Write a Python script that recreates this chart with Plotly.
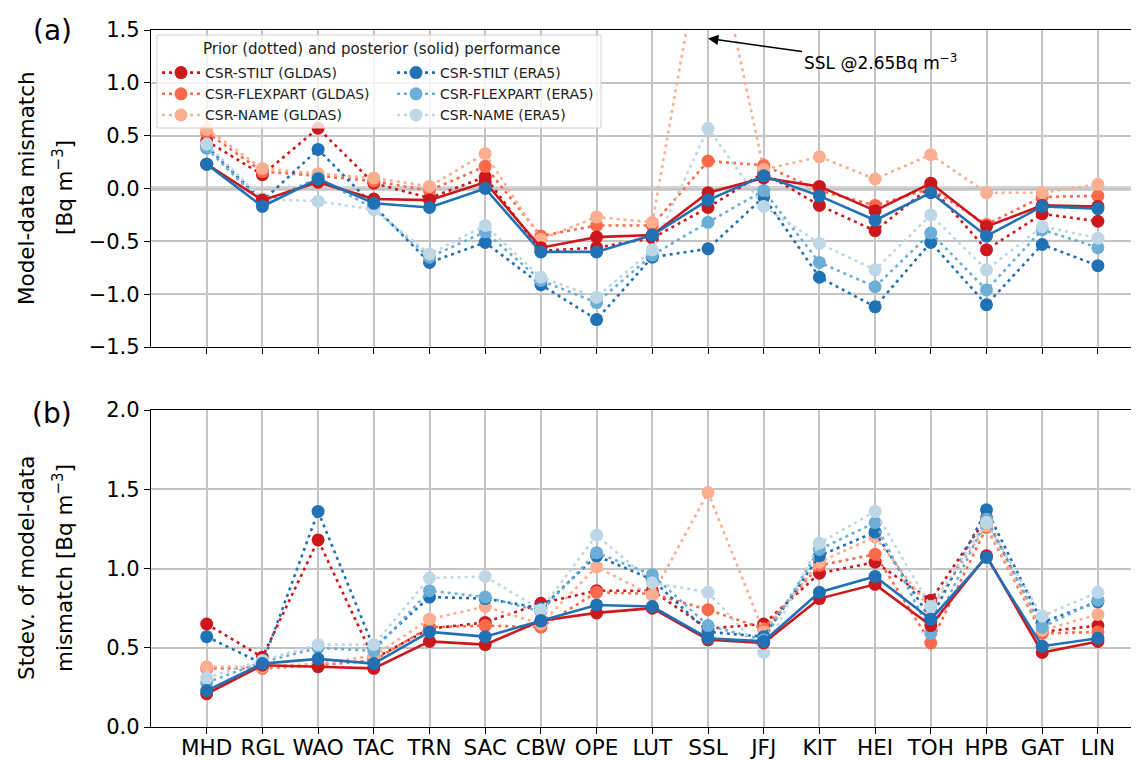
import plotly.graph_objects as go

stations = ["MHD", "RGL", "WAO", "TAC", "TRN", "SAC", "CBW", "OPE", "LUT",
            "SSL", "JFJ", "KIT", "HEI", "TOH", "HPB", "GAT", "LIN"]

# Panel (a): mean model-data mismatch [Bq m-3]
stilt_gldas_prior_mean = [0.45, 0.13, 0.57, 0.05, -0.09, 0.11, -0.59, -0.56, -0.47, -0.18, 0.15, -0.16, -0.40, 0.02, -0.58, -0.24, -0.31]
flex_gldas_prior_mean = [0.53, 0.16, 0.12, 0.07, -0.02, 0.21, -0.45, -0.35, -0.35, 0.26, 0.22, -0.02, -0.16, 0.00, -0.34, -0.08, -0.07]
name_gldas_prior_mean = [0.56, 0.19, 0.14, 0.10, 0.02, 0.33, -0.48, -0.27, -0.32, 2.65, 0.18, 0.30, 0.09, 0.32, -0.04, -0.04, 0.04]
stilt_era5_prior_mean = [0.40, -0.12, 0.37, -0.17, -0.70, -0.51, -0.91, -1.24, -0.65, -0.57, -0.08, -0.84, -1.12, -0.51, -1.10, -0.53, -0.73]
flex_era5_prior_mean = [0.38, -0.14, 0.10, -0.19, -0.65, -0.41, -0.87, -1.08, -0.63, -0.32, -0.02, -0.70, -0.93, -0.42, -0.96, -0.39, -0.56]
name_era5_prior_mean = [0.42, -0.10, -0.12, -0.20, -0.62, -0.35, -0.84, -1.03, -0.58, 0.57, -0.17, -0.52, -0.77, -0.25, -0.77, -0.36, -0.47]
stilt_gldas_post_mean = [0.23, -0.11, 0.06, -0.10, -0.11, 0.06, -0.56, -0.46, -0.44, -0.04, 0.10, 0.02, -0.21, 0.05, -0.36, -0.16, -0.17]
stilt_era5_post_mean = [0.23, -0.17, 0.09, -0.14, -0.18, 0.00, -0.60, -0.60, -0.44, -0.11, 0.12, -0.07, -0.30, -0.04, -0.45, -0.17, -0.19]

# Panel (b): standard deviation of model-data mismatch [Bq m-3]
stilt_gldas_prior_sd = [0.65, 0.44, 1.18, 0.43, 0.62, 0.66, 0.78, 0.86, 0.86, 0.62, 0.65, 0.97, 1.04, 0.80, 1.32, 0.60, 0.64]
flex_gldas_prior_sd = [0.37, 0.37, 0.39, 0.42, 0.63, 0.64, 0.63, 0.85, 0.84, 0.74, 0.62, 1.02, 1.09, 0.53, 1.26, 0.59, 0.60]
name_gldas_prior_sd = [0.38, 0.38, 0.40, 0.45, 0.68, 0.76, 0.65, 1.01, 0.83, 1.48, 0.60, 1.04, 1.20, 0.74, 1.27, 0.61, 0.71]
stilt_era5_prior_sd = [0.57, 0.40, 1.36, 0.50, 0.82, 0.81, 0.75, 1.08, 0.93, 0.60, 0.57, 1.08, 1.23, 0.68, 1.37, 0.66, 0.79]
flex_era5_prior_sd = [0.28, 0.41, 0.50, 0.48, 0.86, 0.82, 0.73, 1.10, 0.96, 0.64, 0.55, 1.12, 1.29, 0.59, 1.31, 0.63, 0.80]
name_era5_prior_sd = [0.31, 0.42, 0.52, 0.52, 0.94, 0.95, 0.74, 1.21, 0.91, 0.85, 0.47, 1.16, 1.36, 0.76, 1.29, 0.70, 0.85]
stilt_gldas_post_sd = [0.21, 0.39, 0.38, 0.37, 0.54, 0.52, 0.67, 0.72, 0.75, 0.55, 0.53, 0.81, 0.90, 0.64, 1.08, 0.47, 0.54]
stilt_era5_post_sd = [0.23, 0.40, 0.43, 0.40, 0.60, 0.57, 0.67, 0.77, 0.76, 0.56, 0.54, 0.85, 0.95, 0.68, 1.07, 0.51, 0.56]

model_names = ["CSR-STILT (GLDAS)", "CSR-FLEXPART (GLDAS)", "CSR-NAME (GLDAS)",
               "CSR-STILT (ERA5)", "CSR-FLEXPART (ERA5)", "CSR-NAME (ERA5)"]
model_colors = ["#cb181d", "#fb6a4a", "#fcae91", "#2171b5", "#6baed6", "#bdd7e7"]
prior_mean = [stilt_gldas_prior_mean, flex_gldas_prior_mean, name_gldas_prior_mean,
              stilt_era5_prior_mean, flex_era5_prior_mean, name_era5_prior_mean]
prior_sd = [stilt_gldas_prior_sd, flex_gldas_prior_sd, name_gldas_prior_sd,
            stilt_era5_prior_sd, flex_era5_prior_sd, name_era5_prior_sd]
post_mean = [stilt_gldas_post_mean, stilt_era5_post_mean]
post_sd = [stilt_gldas_post_sd, stilt_era5_post_sd]
post_colors = ["#cb181d", "#2171b5"]

FONT = "DejaVu Sans"
OFF = 8                      # default page body margin
W, H = 1139 - OFF, 760 - OFF
PLOT_L, PLOT_T, PLOT_B = 151 - OFF, 30 - OFF, 727 - OFF
ML, MR, MT, MB = PLOT_L, 0, PLOT_T, H - PLOT_B
PH = H - MT - MB
PW = W - ML - MR


def py(px):
    """page pixel row (reference picture) -> paper y"""
    return (PLOT_B - (px - OFF)) / PH


def pxx(px):
    """page pixel column (reference picture) -> paper x"""
    return (px - OFF - PLOT_L) / PW


fig = go.Figure()

# zero reference line in panel (a)
fig.add_shape(type="line", xref="paper", x0=0, x1=1, yref="y", y0=0, y1=0,
              line=dict(color="#d4d4d4", width=5), layer="below")

for panel, (xa, ya) in enumerate([("x", "y"), ("x2", "y2")]):
    pri = prior_mean if panel == 0 else prior_sd
    pos = post_mean if panel == 0 else post_sd
    for i in range(6):
        fig.add_trace(go.Scatter(
            x=stations, y=pri[i], xaxis=xa, yaxis=ya, mode="lines+markers",
            name=model_names[i],
            line=dict(color=model_colors[i], width=2.6, dash="3px,4px"),
            marker=dict(color=model_colors[i], size=13),
            showlegend=(panel == 0),
            legend="legend" if i < 3 else "legend2",
        ))
    for j in range(2):
        fig.add_trace(go.Scatter(
            x=stations, y=pos[j], xaxis=xa, yaxis=ya, mode="lines+markers",
            line=dict(color=post_colors[j], width=2.6),
            marker=dict(color=post_colors[j], size=13),
            showlegend=False,
        ))

axis_common = dict(showline=True, linecolor="black", linewidth=1.3,
                   ticks="outside", ticklen=6, tickwidth=1.3, tickcolor="black",
                   showgrid=True, gridcolor="#c4c4c4", gridwidth=1.5,
                   tickfont=dict(family=FONT, size=21, color="black"),
                   zeroline=False, automargin=False)

xr = [-1, (1139 - 151) / 55.7 - 1]
fig.update_layout(
    width=W, height=H,
    margin=dict(l=ML, r=MR, t=MT, b=MB, autoexpand=False),
    plot_bgcolor="white", paper_bgcolor="white",
    font=dict(family=FONT, color="black"),
    xaxis=dict(axis_common, domain=[0, 1], anchor="y", type="category",
               range=xr, mirror=True, showticklabels=False),
    yaxis=dict(axis_common, domain=[py(347), 1], anchor="x",
               range=[-1.5, 1.5], tickvals=[-1.5, -1.0, -0.5, 0.0, 0.5, 1.0, 1.5],
               tickformat=".1f"),
    xaxis2=dict(axis_common, domain=[0, 1], anchor="y2", type="category",
                range=xr, mirror=True, ticklabelstandoff=-5,
                tickfont=dict(family=FONT, size=21.5, color="black")),
    yaxis2=dict(axis_common, domain=[0, py(410)], anchor="x2",
                range=[0, 2.0], tickvals=[0, 0.5, 1.0, 1.5, 2.0],
                tickformat=".1f"),
    legend=dict(x=pxx(157), y=py(57), xanchor="left", yanchor="top",
                bgcolor="rgba(0,0,0,0)", borderwidth=0,
                font=dict(family=FONT, size=14, color="#222"),
                itemwidth=38, tracegroupgap=0),
    legend2=dict(x=pxx(392), y=py(57), xanchor="left", yanchor="top",
                 bgcolor="rgba(0,0,0,0)", borderwidth=0,
                 font=dict(family=FONT, size=14, color="#222"),
                 itemwidth=38, tracegroupgap=0),
)

# legend frame
fig.add_shape(type="rect", xref="paper", yref="paper",
              x0=pxx(157), x1=pxx(601), y0=py(128), y1=py(35),
              line=dict(color="#d0d0d0", width=1),
              fillcolor="rgba(255,255,255,0.8)", layer="above")


def side_label(text, xpx, ypx):
    return dict(text=text, xref="paper", yref="paper", x=pxx(xpx), y=py(ypx),
                textangle=-90, xanchor="center", yanchor="middle",
                showarrow=False, font=dict(family=FONT, size=21.5, color="black"))


annotations = [
    dict(text="Prior (dotted) and posterior (solid) performance",
         xref="paper", yref="paper", x=pxx(381), y=py(49),
         xanchor="center", yanchor="middle",
         showarrow=False, font=dict(family=FONT, size=15, color="#222")),
    dict(text="SSL @2.65Bq m<sup>\u22123</sup>", xref="x", yref="y",
         x="SSL", y=1.42, ax=172, ay=24, showarrow=True,
         arrowhead=2, arrowsize=1.3, arrowwidth=1.6, arrowcolor="black",
         font=dict(family=FONT, size=17, color="black")),
    dict(text="(a)", xref="paper", yref="paper", x=pxx(52), y=py(30),
         xanchor="center", yanchor="middle",
         showarrow=False, font=dict(family=FONT, size=28, color="black")),
    dict(text="(b)", xref="paper", yref="paper", x=pxx(52), y=py(413),
         xanchor="center", yanchor="middle",
         showarrow=False, font=dict(family=FONT, size=28, color="black")),
    side_label("Model-data mismatch", 26, 188),
    side_label("[Bq m<sup>\u22123</sup>]", 63, 188),
    side_label("Stdev. of model-data", 26, 568),
    side_label("mismatch [Bq m<sup>\u22123</sup>]", 63, 568),
]
fig.update_layout(annotations=annotations)

fig.write_html("out.html")
